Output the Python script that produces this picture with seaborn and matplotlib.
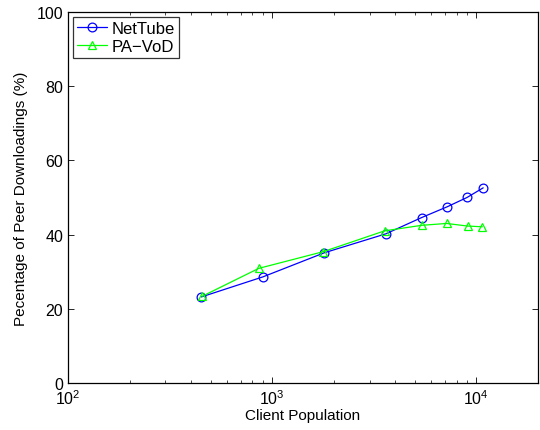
import matplotlib
matplotlib.use("Agg")
import matplotlib.pyplot as plt
import seaborn as sns
import pandas as pd
from matplotlib.ticker import LogLocator, NullFormatter

nettube_x = [450, 900, 1800, 3600, 5400, 7200, 9000, 10800]
nettube_y = [23.2, 28.6, 35.1, 40.2, 44.6, 47.5, 50.0, 52.6]
pavod_x = [455, 860, 1780, 3550, 5400, 7150, 9050, 10700]
pavod_y = [23.4, 30.9, 35.4, 41.0, 42.5, 43.0, 42.3, 42.1]

sns.set_style("ticks")
plt.rcParams['font.family'] = ['Liberation Sans', 'DejaVu Sans']
plt.rcParams['text.color'] = 'black'
plt.rcParams['axes.labelcolor'] = 'black'

fig = plt.figure(figsize=(5.4, 4.31), dpi=100)
ax = fig.add_axes([0.126, 0.109, 0.870, 0.861])

df1 = pd.DataFrame({"x": nettube_x, "y": nettube_y})
df2 = pd.DataFrame({"x": pavod_x, "y": pavod_y})

sns.lineplot(data=df1, x="x", y="y", ax=ax, color=(0, 0, 1), marker="o",
             markersize=6.3, markerfacecolor="none", markeredgecolor=(0, 0, 1),
             markeredgewidth=0.9, linewidth=0.9, label="NetTube")
sns.lineplot(data=df2, x="x", y="y", ax=ax, color=(0, 1, 0), marker="^",
             markersize=6.3, markerfacecolor="none", markeredgecolor=(0, 1, 0),
             markeredgewidth=0.9, linewidth=0.9, label="PA\u2212VoD")

ax.set_xscale("log")
ax.set_xlim(100, 2e4)
ax.set_ylim(0, 100)
ax.set_yticks([0, 20, 40, 60, 80, 100])
ax.xaxis.set_minor_locator(LogLocator(base=10, subs=range(2, 10)))
ax.xaxis.set_minor_formatter(NullFormatter())

for s in ax.spines.values():
    s.set_visible(True)
    s.set_linewidth(0.9)
    s.set_color("black")

ax.tick_params(which="both", direction="in", top=True, right=True, labelsize=11.5,
               colors="black")
ax.tick_params(which="major", length=4.5, width=0.6)
ax.tick_params(which="minor", length=2.5, width=0.5)

ax.set_xlabel("Client Population", fontsize=11, labelpad=1)
ax.set_ylabel("Pecentage of Peer Downloadings (%)", fontsize=11, labelpad=6)

leg = ax.legend(loc="upper left", fontsize=12, frameon=True, fancybox=False,
                borderaxespad=0.3, handlelength=1.8, borderpad=0.25,
                labelspacing=0.15, handletextpad=0.25)
leg.get_frame().set_edgecolor("black")
leg.get_frame().set_linewidth(0.9)
for t in leg.get_texts():
    t.set_color("black")

fig.savefig("out.png", dpi=100)
